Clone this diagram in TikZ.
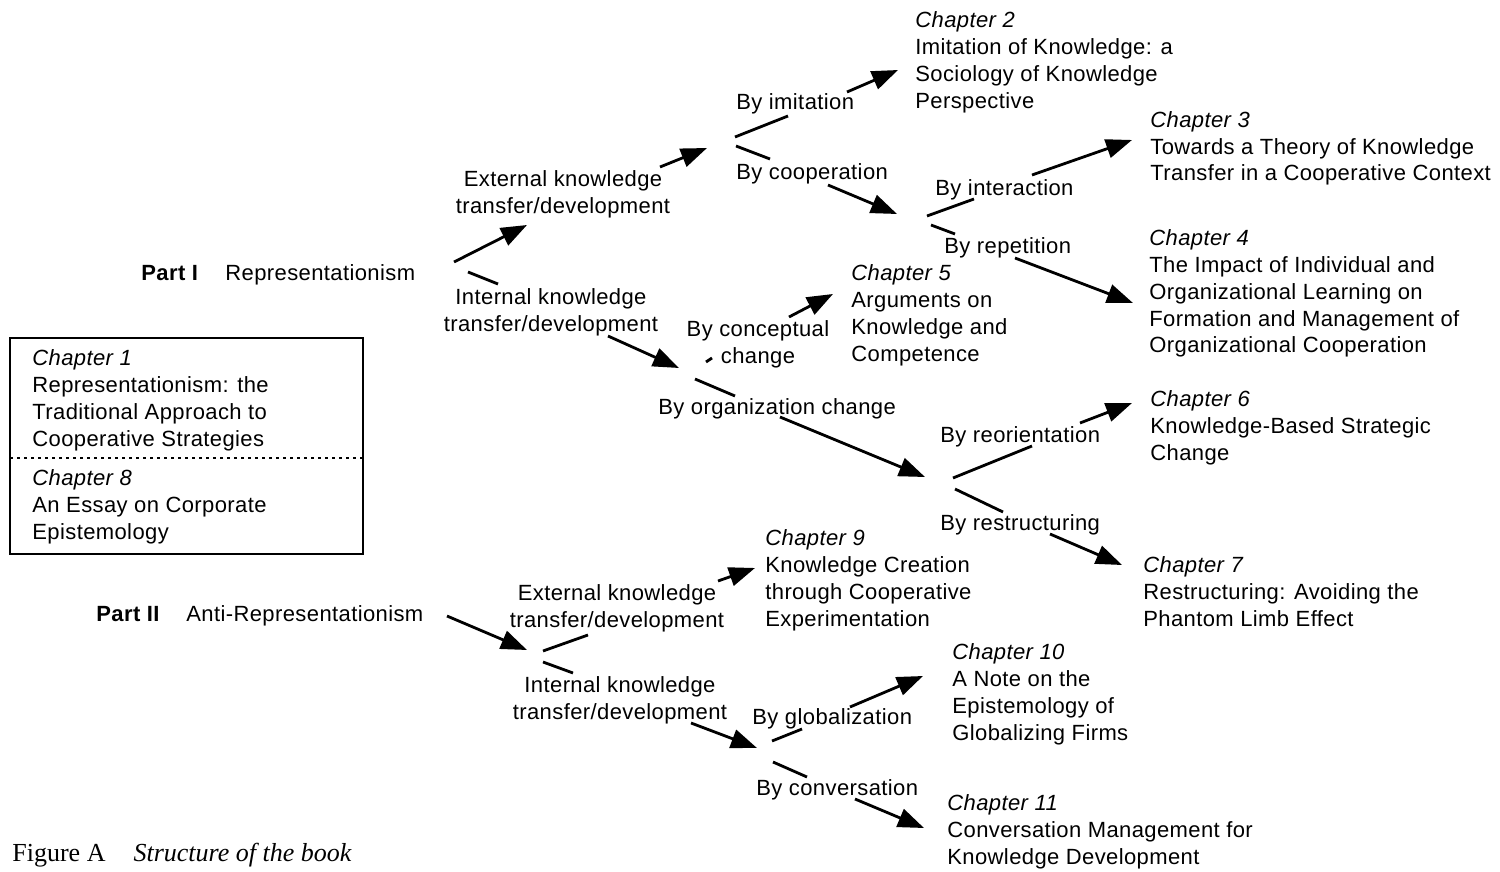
\documentclass[tikz,border=0pt]{standalone}
\usepackage{fontspec}
\setmainfont[LetterSpace=1.8]{Liberation Sans}
\newfontfamily\capfont{Liberation Serif}
\usetikzlibrary{arrows.meta}

% left-aligned and centred stacks of lines whose baseline is the first line
\newcommand\leftlines[1]{\vtop{\halign{##\hfil\cr#1\crcr}}}
\newcommand\midlines[1]{\vtop{\halign{\hfil##\hfil\cr#1\crcr}}}

\tikzset{
  txt/.style={inner sep=0pt, anchor=base west, font=\fontsize{11}{13.5}\selectfont},
  ctxt/.style={txt, anchor=base},
  arr/.style={line width=1.4pt, -{Triangle[length=13pt,width=9.5pt]}},
  stub/.style={line width=1.4pt},
  frame/.style={line width=1.4pt},
  sep/.style={line width=1.4pt, dash pattern=on 1.5pt off 2pt}
}

\begin{document}
\begin{tikzpicture}[x=0.5pt,y=-0.5pt]
\useasboundingbox (0,0) rectangle (1500,872);

% ---------- texts ----------
\node[txt] (p1) at (141,280) {\textbf{Part I}};
\node[txt] (rep) at (225,280) {Representationism};
\node[ctxt] (ext1) at (563,186) {\midlines{External knowledge\cr transfer/development}};
\node[ctxt] (int1) at (551,304) {\midlines{Internal knowledge\cr transfer/development}};
\node[txt] (imit) at (736,110) {By imitation};
\node[txt] (coop) at (736,179) {By cooperation};
\node[txt] (ch2) at (915,28) {\leftlines{\textit{Chapter 2}\cr Imitation of Knowledge: a\cr Sociology of Knowledge\cr Perspective}};
\node[txt] (inter) at (935,195) {By interaction};
\node[txt] (repet) at (944,253) {By repetition};
\node[txt] (ch3) at (1150,127) {\leftlines{\textit{Chapter 3}\cr Towards a Theory of Knowledge\cr Transfer in a Cooperative Context}};
\node[txt] (ch4) at (1149,245) {\leftlines{\textit{Chapter 4}\cr The Impact of Individual and\cr Organizational Learning on\cr Formation and Management of\cr Organizational Cooperation}};
\node[ctxt] (concept) at (758,336) {\midlines{By conceptual\cr change}};
\node[txt] (ch5) at (851,280) {\leftlines{\textit{Chapter 5}\cr Arguments on\cr Knowledge and\cr Competence}};
\node[txt] (orgch) at (658,414) {By organization change};
\node[txt] (reor) at (940,442) {By reorientation};
\node[txt] (restr) at (940,530) {By restructuring};
\node[txt] (ch6) at (1150,406) {\leftlines{\textit{Chapter 6}\cr Knowledge-Based Strategic\cr Change}};
\node[txt] (ch7) at (1143,572) {\leftlines{\textit{Chapter 7}\cr Restructuring: Avoiding the\cr Phantom Limb Effect}};

% boxed chapters 1 and 8
\draw[frame] (10,338) rectangle (363,554);
\coordinate (sepl) at (10,458);
\coordinate (sepr) at (363,458);
\draw[sep] (sepl) -- (sepr);
\node[txt] (ch1) at (32,365) {\leftlines{\textit{Chapter 1}\cr Representationism: the\cr Traditional Approach to\cr Cooperative Strategies}};
\node[txt] (ch8) at (32,485) {\leftlines{\textit{Chapter 8}\cr An Essay on Corporate\cr Epistemology}};

\node[txt] (p2) at (96,621) {\textbf{Part II}};
\node[txt] (anti) at (186,621) {Anti-Representationism};
\node[ctxt] (ext2) at (617,600) {\midlines{External knowledge\cr transfer/development}};
\node[ctxt] (int2) at (620,692) {\midlines{Internal knowledge\cr transfer/development}};
\node[txt] (ch9) at (765,545) {\leftlines{\textit{Chapter 9}\cr Knowledge Creation\cr through Cooperative\cr Experimentation}};
\node[txt] (glob) at (752,724) {By globalization};
\node[txt] (conv) at (756,795) {By conversation};
\node[txt] (ch10) at (952,659) {\leftlines{\textit{Chapter 10}\cr A Note on the\cr Epistemology of\cr Globalizing Firms}};
\node[txt] (ch11) at (947,810) {\leftlines{\textit{Chapter 11}\cr Conversation Management for\cr Knowledge Development}};

\node[txt, font=\capfont\fontsize{13}{15}\selectfont] (cap) at (12,861) {Figure A\hspace{14pt}\textit{Structure of the book}};

% ---------- connector end points ----------
% Part I
\coordinate (a1s) at (454,262);  \coordinate (a1e) at (527,225);
\coordinate (a2s) at (660,167);  \coordinate (bext) at (707,148);
\coordinate (s1s) at (468,272);  \coordinate (s1e) at (498,284);
\coordinate (a3s) at (608,336);  \coordinate (bint) at (679,368);
% external branch
\coordinate (imA) at (735,137);  \coordinate (imB) at (788,116);
\coordinate (imC) at (847,92);   \coordinate (imD) at (898,70);
\coordinate (coA) at (736,146);  \coordinate (coB) at (770,159);
\coordinate (coC) at (828,185);  \coordinate (bcoop) at (897,214);
% cooperation branch
\coordinate (inA) at (927,216);  \coordinate (inB) at (974,199);
\coordinate (inC) at (1032,175); \coordinate (inD) at (1132,140);
\coordinate (reA) at (931,225);  \coordinate (reB) at (955,234);
\coordinate (reC) at (1015,258); \coordinate (reD) at (1133,303);
% internal branch
\coordinate (cnA) at (706,362);  \coordinate (cnB) at (712,358);
\coordinate (cnC) at (789,317);  \coordinate (cnD) at (833,294);
\coordinate (ogA) at (695,379);  \coordinate (ogB) at (735,396);
\coordinate (ogC) at (780,417);  \coordinate (borg) at (925,477);
% organization change branch
\coordinate (roA) at (953,478);  \coordinate (roB) at (1032,446);
\coordinate (roC) at (1080,423); \coordinate (roD) at (1132,403);
\coordinate (rsA) at (955,489);  \coordinate (rsB) at (1003,512);
\coordinate (rsC) at (1050,534); \coordinate (rsD) at (1122,565);
% Part II
\coordinate (b2s) at (447,616);  \coordinate (b2) at (527,650);
\coordinate (e2A) at (543,651);  \coordinate (e2B) at (588,635);
\coordinate (e2C) at (718,581);  \coordinate (e2D) at (755,568);
\coordinate (i2A) at (543,662);  \coordinate (i2B) at (573,673);
\coordinate (i2C) at (691,723);  \coordinate (bint2) at (757,748);
\coordinate (glA) at (772,741);  \coordinate (glB) at (802,729);
\coordinate (glC) at (850,707);  \coordinate (glD) at (923,676);
\coordinate (cvA) at (773,762);  \coordinate (cvB) at (807,777);
\coordinate (cvC) at (855,799);  \coordinate (cvD) at (924,828);

% ---------- connectors ----------
\draw[arr] (a1s) -- (a1e);
\draw[arr] (a2s) -- (bext);
\draw[stub] (s1s) -- (s1e);
\draw[arr] (a3s) -- (bint);

\draw[stub] (imA) -- (imB);  \draw[arr] (imC) -- (imD);
\draw[stub] (coA) -- (coB);  \draw[arr] (coC) -- (bcoop);

\draw[stub] (inA) -- (inB);  \draw[arr] (inC) -- (inD);
\draw[stub] (reA) -- (reB);  \draw[arr] (reC) -- (reD);

\draw[stub] (cnA) -- (cnB);  \draw[arr] (cnC) -- (cnD);
\draw[stub] (ogA) -- (ogB);  \draw[arr] (ogC) -- (borg);

\draw[stub] (roA) -- (roB);  \draw[arr] (roC) -- (roD);
\draw[stub] (rsA) -- (rsB);  \draw[arr] (rsC) -- (rsD);

\draw[arr] (b2s) -- (b2);
\draw[stub] (e2A) -- (e2B);  \draw[arr] (e2C) -- (e2D);
\draw[stub] (i2A) -- (i2B);  \draw[arr] (i2C) -- (bint2);
\draw[stub] (glA) -- (glB);  \draw[arr] (glC) -- (glD);
\draw[stub] (cvA) -- (cvB);  \draw[arr] (cvC) -- (cvD);
\end{tikzpicture}
\end{document}
